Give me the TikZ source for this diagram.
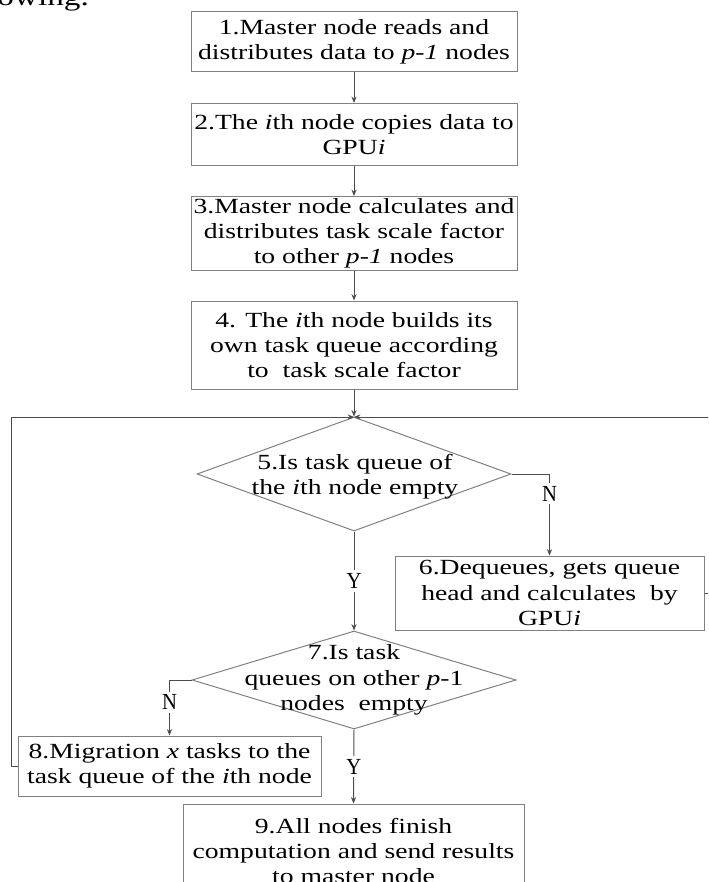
\documentclass[tikz,border=0pt]{standalone}
\usepackage{fontspec}
\setmainfont{Liberation Serif}[FakeStretch=1.28]
\newfontfamily\yesnofont{Liberation Serif}[FakeStretch=0.9]
\usetikzlibrary{arrows.meta, shapes.geometric}

\begin{document}
\begin{tikzpicture}[
	x=0.5pt, y=-0.5pt,
	box/.style={draw=black!50, line width=0.5pt, inner sep=0pt,
		minimum width=163pt, align=center,
		font=\fontsize{10.8}{12.6}\selectfont},
	dia/.style={draw=black!50, line width=0.5pt, diamond, inner sep=0pt},
	txt/.style={align=center, inner sep=0pt,
		font=\fontsize{10.8}{12.6}\selectfont},
	yn/.style={fill=white, inner sep=1.5pt,
		font=\yesnofont\fontsize{11.5}{12}\selectfont},
	line/.style={draw=black!70, line width=0.5pt},
	>={Stealth[length=3.2pt, width=2.6pt]}
	]
	\useasboundingbox (0,0) rectangle (708,882);
	\clip (0,0) rectangle (708,882);

	\node[anchor=base west, inner sep=0pt, font=\fontsize{13}{13}\selectfont] (prev) at (-3,6) {owing.};

	\node[box, minimum height=30pt] (s1) at (354,41.5) {1.Master node reads and\\distributes data to \textit{p-1} nodes};
	\node[box, minimum height=31pt] (s2) at (354,134.5) {2.The \textit{i}th node copies data to\\GPU\textit{i}};
	\node[box, minimum height=37pt] (s3) at (354,233.5) {3.Master node calculates and\\distributes task scale factor\\to other \textit{p-1} nodes};
	\node[box, minimum height=44pt] (s4) at (354,345) {4. The \textit{i}th node builds its\\own task queue according\\to~ task scale factor};

	\coordinate (top) at (354,417);
	\node[dia, minimum width=157pt, minimum height=57pt] (d5) at (354,474) {};
	\node[txt] (q5) at (355,477) {5.Is task queue of\\the \textit{i}th node empty};

	\node[box, minimum width=154.5pt, minimum height=37pt] (s6) at (549.5,593) {6.Dequeues, gets queue\\head and calculates~ by\\GPU\textit{i}};

	\node[dia, minimum width=162pt, minimum height=49pt] (d7) at (354,680) {};
	\node[txt] (q7) at (354,680) {7.Is task\\queues on other \textit{p}-1\\nodes~ empty};

	\node[box, minimum width=151.5pt, minimum height=30pt] (s8) at (169.5,766) {8.Migration \textit{x} tasks to the\\task queue of the \textit{i}th node};
	\node[box, minimum width=170.5pt, minimum height=47pt] (s9) at (353.5,851) {9.All nodes finish\\computation and send results\\to master node};

	\draw[line, ->] (s1) -- (s2);
	\draw[line, ->] (s2) -- (s3);
	\draw[line, ->] (s3) -- (s4);
	\draw[line, ->] (s4) -- (d5.north);

	\draw[line, ->] (d5.east) -| (s6.north) node[yn, pos=0.62] {N};
	\draw[line, ->] (d5.south) -- (d7.north) node[yn, midway] {Y};
	\draw[line, ->] (d7.west) -| (s8.north) node[yn, pos=0.7] {N};
	\draw[line, ->] (d7.south) -- (s9.north) node[yn, midway] {Y};

	\draw[line, ->] (s8.west) -- ++(-6,0) |- (top);
	\draw[line, ->] (s6.east) -- ++(7,0) |- (top);
\end{tikzpicture}
\end{document}
